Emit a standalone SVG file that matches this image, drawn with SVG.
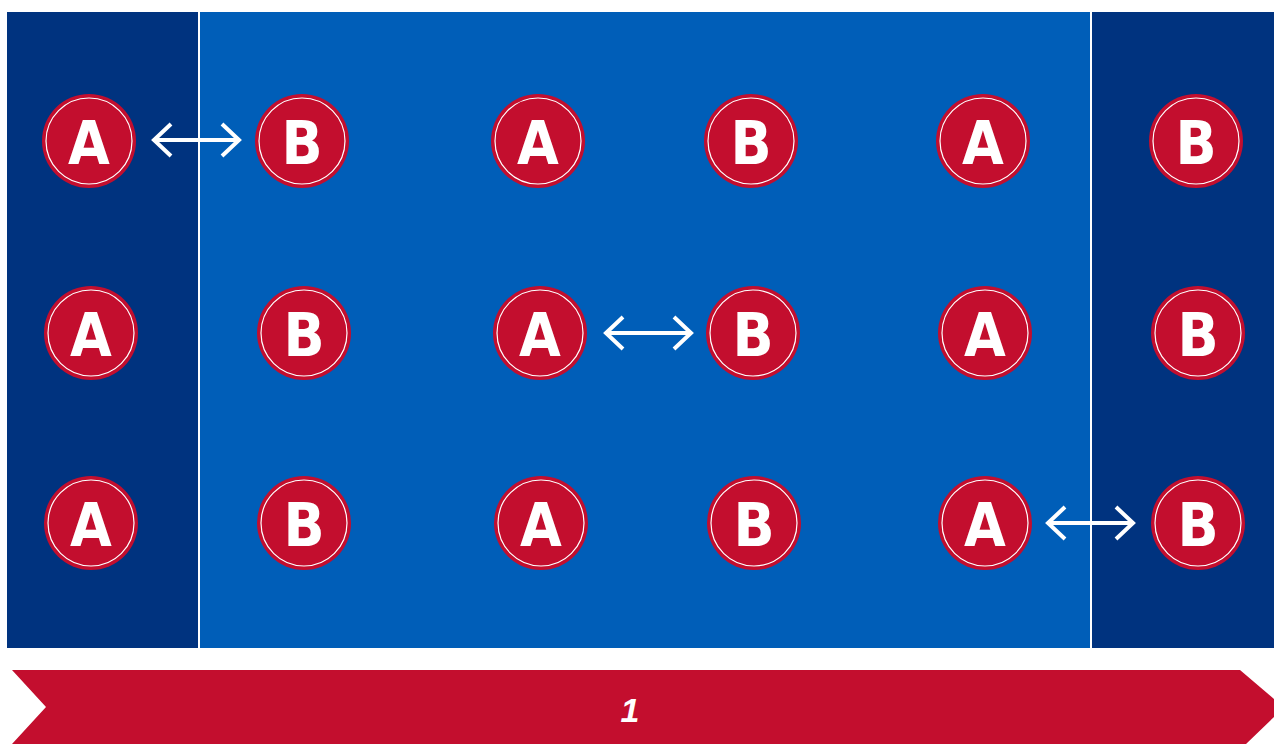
<svg xmlns="http://www.w3.org/2000/svg" width="1274" height="744" viewBox="0 0 1274 744">
<defs>
<style>
.dark{fill:#00337f}
.blue{fill:#005eb8}
.sep{stroke:#ffffff;stroke-width:2}
.disc{fill:#c30e2e}
.ring{fill:none;stroke:#ffffff;stroke-width:1.2}
.lbl{font-family:"DejaVu Sans Condensed","DejaVu Sans",sans-serif;font-weight:bold;font-size:60px;fill:#ffffff;text-anchor:middle}
.conn{stroke:#ffffff;stroke-width:4;fill:none}
.band{fill:#c30e2e}
.num{font-family:"Liberation Sans",Arial,sans-serif;font-weight:bold;font-style:italic;font-size:34px;fill:#ffffff;text-anchor:middle}
</style>
<g id="node-shape">
<circle class="disc" r="47"/>
<circle class="ring" r="43"/>
</g>
</defs>
<g id="field">
<rect class="dark" x="7" y="12" width="192" height="636"/>
<rect class="blue" x="199" y="12" width="892" height="636"/>
<rect class="dark" x="1091" y="12" width="183" height="636"/>
<line class="sep" x1="199" y1="12" x2="199" y2="648"/>
<line class="sep" x1="1091" y1="12" x2="1091" y2="648"/>
</g>
<g id="n1"><use href="#node-shape" x="89" y="141"/><text class="lbl" x="89" y="164">A</text></g>
<g id="n2"><use href="#node-shape" x="302" y="141"/><text class="lbl" x="302" y="164">B</text></g>
<g id="n3"><use href="#node-shape" x="538" y="141"/><text class="lbl" x="538" y="164">A</text></g>
<g id="n4"><use href="#node-shape" x="751" y="141"/><text class="lbl" x="751" y="164">B</text></g>
<g id="n5"><use href="#node-shape" x="983" y="141"/><text class="lbl" x="983" y="164">A</text></g>
<g id="n6"><use href="#node-shape" x="1196" y="141"/><text class="lbl" x="1196" y="164">B</text></g>
<g id="n7"><use href="#node-shape" x="91" y="333"/><text class="lbl" x="91" y="356">A</text></g>
<g id="n8"><use href="#node-shape" x="304" y="333"/><text class="lbl" x="304" y="356">B</text></g>
<g id="n9"><use href="#node-shape" x="540" y="333"/><text class="lbl" x="540" y="356">A</text></g>
<g id="n10"><use href="#node-shape" x="753" y="333"/><text class="lbl" x="753" y="356">B</text></g>
<g id="n11"><use href="#node-shape" x="985" y="333"/><text class="lbl" x="985" y="356">A</text></g>
<g id="n12"><use href="#node-shape" x="1198" y="333"/><text class="lbl" x="1198" y="356">B</text></g>
<g id="n13"><use href="#node-shape" x="91" y="523"/><text class="lbl" x="91" y="546">A</text></g>
<g id="n14"><use href="#node-shape" x="304" y="523"/><text class="lbl" x="304" y="546">B</text></g>
<g id="n15"><use href="#node-shape" x="541" y="523"/><text class="lbl" x="541" y="546">A</text></g>
<g id="n16"><use href="#node-shape" x="754" y="523"/><text class="lbl" x="754" y="546">B</text></g>
<g id="n17"><use href="#node-shape" x="985" y="523"/><text class="lbl" x="985" y="546">A</text></g>
<g id="n18"><use href="#node-shape" x="1198" y="523"/><text class="lbl" x="1198" y="546">B</text></g>
<g id="connectors">
<path class="conn" d="M153 140 H240 M171 124 L154 140 L171 156 M222 124 L239 140 L222 156"/>
<path class="conn" d="M605 333 H692 M623 317 L606 333 L623 349 M674 317 L691 333 L674 349"/>
<path class="conn" d="M1047 523 H1134 M1065 507 L1048 523 L1065 539 M1116 507 L1133 523 L1116 539"/>
</g>
<g id="band">
<polygon class="band" points="12,670 1240,670 1274,699 1274,717 1246,744 12,744 46,707"/>
<text class="num" x="630" y="722">1</text>
</g>
</svg>
